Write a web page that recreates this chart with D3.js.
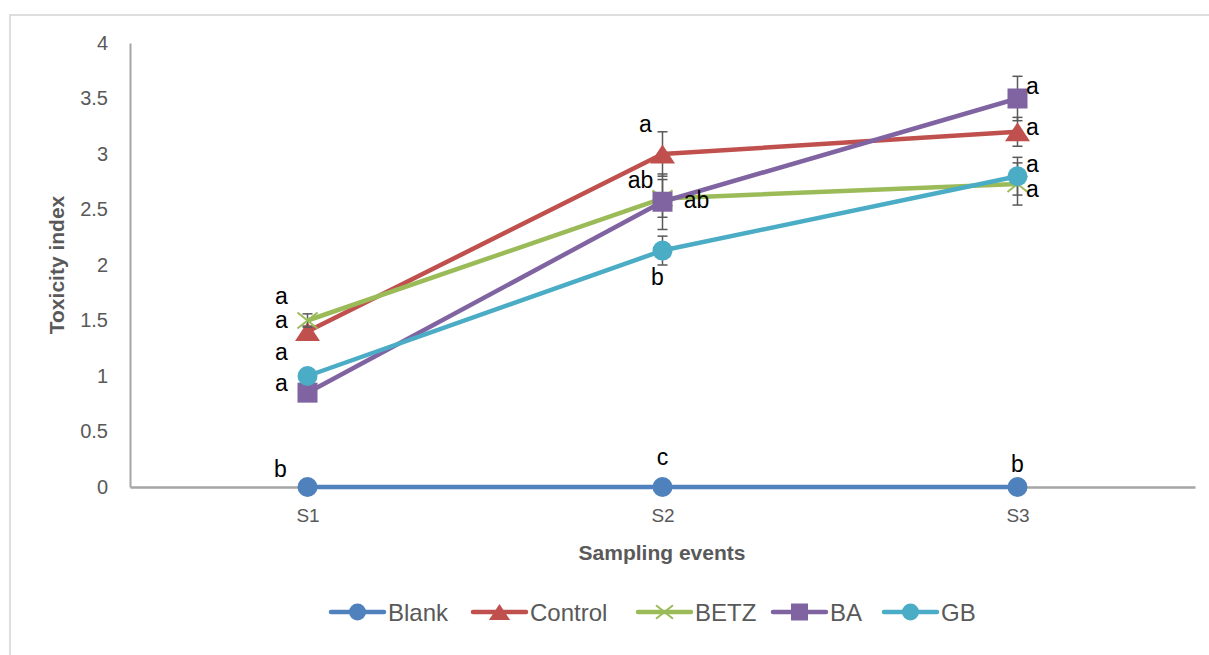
<!DOCTYPE html>
<html>
<head>
<meta charset="utf-8">
<script src="https://cdn.jsdelivr.net/npm/d3@7"></script>
<style>
  html, body { margin: 0; padding: 0; background: #fff; }
  svg { display: block; }
  text { font-family: "Liberation Sans", Arial, sans-serif; }
</style>
</head>
<body>
<svg id="chart" width="1209" height="655"></svg>
<script>
// Sampling events on the x axis
const categories = ["S1", "S2", "S3"];

// Mean toxicity index per treatment
const blank   = [0, 0, 0];
const control = [1.4, 3.0, 3.2];
const betz    = [1.5, 2.6, 2.73];
const ba      = [0.85, 2.57, 3.5];
const gb      = [1.0, 2.13, 2.8];

// Standard errors (± whiskers)
const blankErr   = [0, 0, 0];
const controlErr = [0.05, 0.2, 0.13];
const betzErr    = [0.06, 0.17, 0.19];
const baErr      = [0.05, 0.25, 0.2];
const gbErr      = [0.05, 0.13, 0.17];

// Significance letters for each treatment at each sampling event
const blankSig   = ["b", "c", "b"];
const controlSig = ["a", "a", "a"];
const betzSig    = ["a", "ab", "a"];
const baSig      = ["a", "ab", "a"];
const gbSig      = ["a", "b", "a"];

const yTicks = [0, 0.5, 1, 1.5, 2, 2.5, 3, 3.5, 4];
const yTickLabels = ["0", "0.5", "1", "1.5", "2", "2.5", "3", "3.5", "4"];

const seriesNames = ["Blank", "Control", "BETZ", "BA", "GB"];

// Styling and label placement (offset of each letter from its point)
const styles = {
  Blank:   { color: "#4f81bd", marker: "circle",   labelOffsets: [[-27, -10], [0, -22], [0, -15]] },
  Control: { color: "#c0504d", marker: "triangle", labelOffsets: [[-26, -4], [-17, -22], [15, 3]] },
  BETZ:    { color: "#9bbb59", marker: "x",        labelOffsets: [[-26, -17], [-22, -10], [15, 13]] },
  BA:      { color: "#8064a2", marker: "square",   labelOffsets: [[-26, -2], [34, 6], [15, -5]] },
  GB:      { color: "#4bacc6", marker: "circle",   labelOffsets: [[-26, -16], [-5, 34], [15, -4]] }
};

const series = [
  { name: "Blank",   values: blank,   err: blankErr,   sig: blankSig },
  { name: "Control", values: control, err: controlErr, sig: controlSig },
  { name: "BETZ",    values: betz,    err: betzErr,    sig: betzSig },
  { name: "BA",      values: ba,      err: baErr,      sig: baSig },
  { name: "GB",      values: gb,      err: gbErr,      sig: gbSig }
];

const svg = d3.select("#chart");

// Chart frame
svg.append("rect")
  .attr("x", 10).attr("y", 15)
  .attr("width", 1230).attr("height", 700)
  .attr("fill", "none")
  .attr("stroke", "#d4d4d4")
  .attr("stroke-width", 1.5);

const x = d3.scalePoint().domain(categories).range([130, 1195]).padding(0.5);
const y = d3.scaleLinear().domain([0, 4]).range([487, 43]);

// Y axis
const yAxis = svg.append("g")
  .attr("transform", "translate(130,0)")
  .call(d3.axisLeft(y).tickValues(yTicks).tickSize(0).tickSizeOuter(0).tickPadding(22)
    .tickFormat((d, i) => yTickLabels[i]));
yAxis.select(".domain").attr("stroke", "#a6a6a6").attr("stroke-width", 2);
yAxis.selectAll("text").attr("font-size", 20).attr("fill", "#595959")
  .attr("font-family", "'Liberation Sans', Arial, sans-serif");

// X axis
const xAxis = svg.append("g")
  .attr("transform", "translate(0,487)")
  .call(d3.axisBottom(x).tickSize(0).tickSizeOuter(0).tickPadding(22));
xAxis.select(".domain").attr("stroke", "#a6a6a6").attr("stroke-width", 2.5);
xAxis.selectAll("text").attr("font-size", 19).attr("fill", "#595959")
  .attr("font-family", "'Liberation Sans', Arial, sans-serif");

// Axis titles
svg.append("text")
  .attr("transform", "translate(64,265) rotate(-90)")
  .attr("text-anchor", "middle")
  .attr("font-size", 21).attr("font-weight", "bold").attr("fill", "#595959")
  .text("Toxicity index");

svg.append("text")
  .attr("x", 662).attr("y", 560)
  .attr("text-anchor", "middle")
  .attr("font-size", 21).attr("font-weight", "bold").attr("fill", "#595959")
  .text("Sampling events");

// Marker drawing helper
function drawMarker(g, type, color, cx, cy, scale) {
  const s = scale || 1;
  if (type === "circle") {
    g.append("circle").attr("cx", cx).attr("cy", cy).attr("r", 10 * s).attr("fill", color);
  } else if (type === "square") {
    g.append("rect").attr("x", cx - 10 * s).attr("y", cy - 10 * s)
      .attr("width", 20 * s).attr("height", 20 * s).attr("fill", color);
  } else if (type === "triangle") {
    const w = 12.5 * s, h = 19 * s;
    g.append("path")
      .attr("d", `M${cx},${cy - h * 0.5}L${cx + w},${cy + h * 0.5}L${cx - w},${cy + h * 0.5}Z`)
      .attr("fill", color);
  } else if (type === "x") {
    const r = 10 * s;
    g.append("path")
      .attr("d", `M${cx - r},${cy - r * 0.8}L${cx + r},${cy + r * 0.8}M${cx - r},${cy + r * 0.8}L${cx + r},${cy - r * 0.8}`)
      .attr("stroke", color).attr("stroke-width", 2).attr("fill", "none");
  }
}

const line = d3.line()
  .x((d, i) => x(categories[i]))
  .y(d => y(d));

// Series: error bars, line, markers
series.forEach(s => {
  const st = styles[s.name];
  const g = svg.append("g").attr("class", "series");

  s.values.forEach((v, i) => {
    const e = s.err[i];
    if (!e) return;
    const cx = x(categories[i]);
    const y1 = y(v + e), y2 = y(v - e);
    g.append("line").attr("x1", cx).attr("x2", cx).attr("y1", y1).attr("y2", y2)
      .attr("stroke", "#595959").attr("stroke-width", 1.5);
    [y1, y2].forEach(yy => {
      g.append("line").attr("x1", cx - 5).attr("x2", cx + 5).attr("y1", yy).attr("y2", yy)
        .attr("stroke", "#595959").attr("stroke-width", 1.5);
    });
  });

  g.append("path")
    .datum(s.values)
    .attr("d", line)
    .attr("fill", "none")
    .attr("stroke", st.color)
    .attr("stroke-width", 4.5)
    .attr("stroke-linejoin", "round");

  s.values.forEach((v, i) => {
    drawMarker(g, st.marker, st.color, x(categories[i]), y(v));
  });
});

// Significance letters
series.forEach(s => {
  const st = styles[s.name];
  s.values.forEach((v, i) => {
    const [dx, dy] = st.labelOffsets[i];
    svg.append("text")
      .attr("x", x(categories[i]) + dx)
      .attr("y", y(v) + dy)
      .attr("text-anchor", "middle")
      .attr("font-size", 23)
      .attr("fill", "#000")
      .text(s.sig[i]);
  });
});

// Legend
const legendItemStarts = [331, 473, 638, 773, 884];
const legend = svg.append("g").attr("class", "legend");
seriesNames.forEach((name, i) => {
  const st = styles[name];
  const x0 = legendItemStarts[i];
  const ly = 612;
  legend.append("line").attr("x1", x0).attr("x2", x0 + 53).attr("y1", ly).attr("y2", ly)
    .attr("stroke", st.color).attr("stroke-width", 4.5).attr("stroke-linecap", "round");
  drawMarker(legend, st.marker, st.color, x0 + 26.5, ly, 0.85);
  legend.append("text")
    .attr("x", x0 + 57).attr("y", ly + 9)
    .attr("font-size", 24).attr("fill", "#595959")
    .text(name);
});
</script>
</body>
</html>
